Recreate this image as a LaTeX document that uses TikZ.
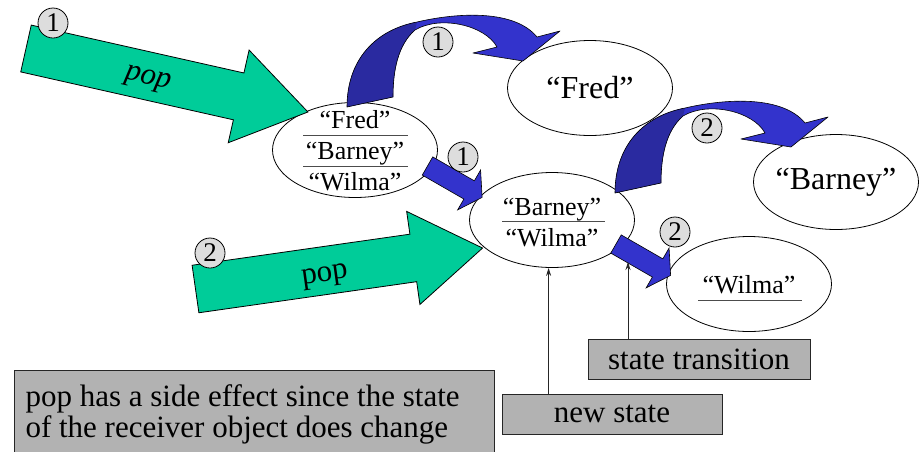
\documentclass[tikz,border=0pt]{standalone}
\usepackage{fontspec}
\IfFontExistsTF{LiberationSerif-Regular.ttf}{%
  \setmainfont{LiberationSerif-Regular.ttf}[ItalicFont=LiberationSerif-Italic.ttf, BoldFont=LiberationSerif-Bold.ttf]}{%
  \setmainfont{Liberation Serif}}
\usetikzlibrary{shapes.geometric,arrows.meta,calc}
\definecolor{grn}{RGB}{0,204,153}
\definecolor{blu}{RGB}{51,51,204}
\definecolor{bludark}{RGB}{42,42,160}
\definecolor{circfill}{RGB}{221,221,221}
\definecolor{boxfill}{RGB}{178,178,178}
\begin{document}
\begin{tikzpicture}[x=1pt,y=-1pt,
  obj/.style={ellipse, draw, fill=white, line width=0.8pt, minimum width=165pt, minimum height=95pt, inner sep=0pt},
  num/.style={circle, draw, fill=circfill, line width=0.8pt, minimum size=30pt, inner sep=0pt, font=\fontsize{27}{27}\selectfont},
  note/.style={draw=black!85, fill=boxfill, line width=0.8pt, inner sep=0pt, font=\fontsize{31}{31}\selectfont},
  big/.style={font=\fontsize{32}{32}\selectfont},
  small/.style={font=\fontsize{26}{26}\selectfont},
  rule/.style={draw=black!70, line width=1pt},
  ptr/.style={draw=black!85, line width=0.8pt, -{Stealth[length=8pt,width=5pt]}},
  greenarrow/.style={fill=grn, draw=black, line width=0.8pt},
  bluearrow/.style={fill=blu, draw=black, line width=0.6pt},
]
\useasboundingbox (0,0) rectangle (923,451);

% objects (ellipses)
\node[obj] (stackA) at (355,150) {};
\node[obj] (fred) at (590,88) {};
\node[obj] (stackB) at (552,220) {};
\node[obj] (barney) at (836,182) {};
\node[obj] (wilma) at (749,284) {};

% texts in ellipses
\node[small, anchor=base] (a1) at (stackA |- 0,128) {“Fred”};
\draw[rule] (303,135) -- (408,135);
\node[small, anchor=base] (a2) at (stackA |- 0,159) {“Barney”};
\draw[rule] (303,166) -- (408,166);
\node[small, anchor=base] (a3) at (stackA |- 0,190) {“Wilma”};

\node[big] at (fred) {“Fred”};
\node[big] at (barney) {“Barney”};

\node[small, anchor=base] (b1) at (stackB |- 0,215) {“Barney”};
\draw[rule] (502,221) -- (605,221);
\node[small, anchor=base] (b2) at (stackB |- 0,246) {“Wilma”};

\node[small, anchor=base] (c1) at (wilma |- 0,293) {“Wilma”};
\draw[rule] (698,300) -- (802,300);

% green "pop" arrows
\begin{scope}[shift={(26,48.5)}, rotate=-12.69]
  \draw[greenarrow] (0,-24) -- (218,-24) -- (218,-47.5) -- (289,0) -- (218,47.5) -- (218,24) -- (0,24) -- cycle;
\end{scope}
\node[rotate=-12.7, font=\itshape\fontsize{31}{31}\selectfont] (pop1) at (148,80) {pop};

\begin{scope}[shift={(195.5,289)}, rotate=8.12]
  \draw[greenarrow] (0,-24) -- (220,-24) -- (220,-47) -- (290,0) -- (220,47) -- (220,24) -- (0,24) -- cycle;
\end{scope}
\node[rotate=8, font=\fontsize{31}{31}\selectfont] (pop2) at (325,277) {pop};

% straight blue arrows
\foreach \sx/\sy in {427.5/166, 616/244}{
  \begin{scope}[shift={(\sx,\sy)}, rotate=-29.9]
    \draw[bluearrow] (0,-10.5) -- (48,-10.5) -- (48,-23) -- (63,0) -- (48,23) -- (48,10.5) -- (0,10.5) -- cycle;
  \end{scope}
}

% curved blue arrows
\foreach \sx/\sy in {0/0, 268/86}{
  \begin{scope}[shift={(\sx,\sy)}]
    \fill[blu] (347,107) .. controls (347,60) and (375,30) .. (417,22)
      .. controls (460,12) and (515,10) .. (537,37) -- (560,31) -- (523,61) -- (473,53) -- (497,47)
      .. controls (485,25) and (440,15) .. (415,30)
      .. controls (398,45) and (393,70) .. (393,97) -- cycle;
    \fill[bludark] (347,107) .. controls (347,60) and (375,30) .. (417,22) -- (415,30)
      .. controls (398,45) and (393,70) .. (393,97) -- cycle;
    \draw[line width=0.6pt, line join=round] (347,107) .. controls (347,60) and (375,30) .. (417,22)
      .. controls (460,12) and (515,10) .. (537,37) -- (560,31) -- (523,61) -- (473,53) -- (497,47)
      .. controls (485,25) and (440,15) .. (415,30)
      .. controls (398,45) and (393,70) .. (393,97) -- cycle;
  \end{scope}
}

% step numbers
\node[num] (n1a) at (53,23) {1};
\node[num] (n1b) at (438,42) {1};
\node[num] (n1c) at (463,157) {1};
\node[num] (n2a) at (210,253) {2};
\node[num] (n2b) at (707,128) {2};
\node[num] (n2c) at (675,232) {2};

% notes
\node[note, minimum width=222pt, minimum height=40pt] (sttrans) at (699,359) {state transition};
\node[note, minimum width=220pt, minimum height=40pt] (newstate) at (612,414) {new state};
\node[note, anchor=north west, minimum width=480pt, minimum height=100pt] (side) at (14,370) {};
\node[anchor=base west, font=\fontsize{31}{31}\selectfont] (s1) at (22,406) {pop has a side effect since the state};
\node[anchor=base west, font=\fontsize{31}{31}\selectfont] (s2) at (22,437) {of the receiver object does change};

% pointers
\coordinate (trans) at (628,262);
\draw[ptr] ([xshift=47pt]newstate.north west) -- ([xshift=47pt]newstate.north west |- stackB.south);
\draw[ptr] (sttrans.north -| trans) -- (trans);
\end{tikzpicture}
\end{document}
